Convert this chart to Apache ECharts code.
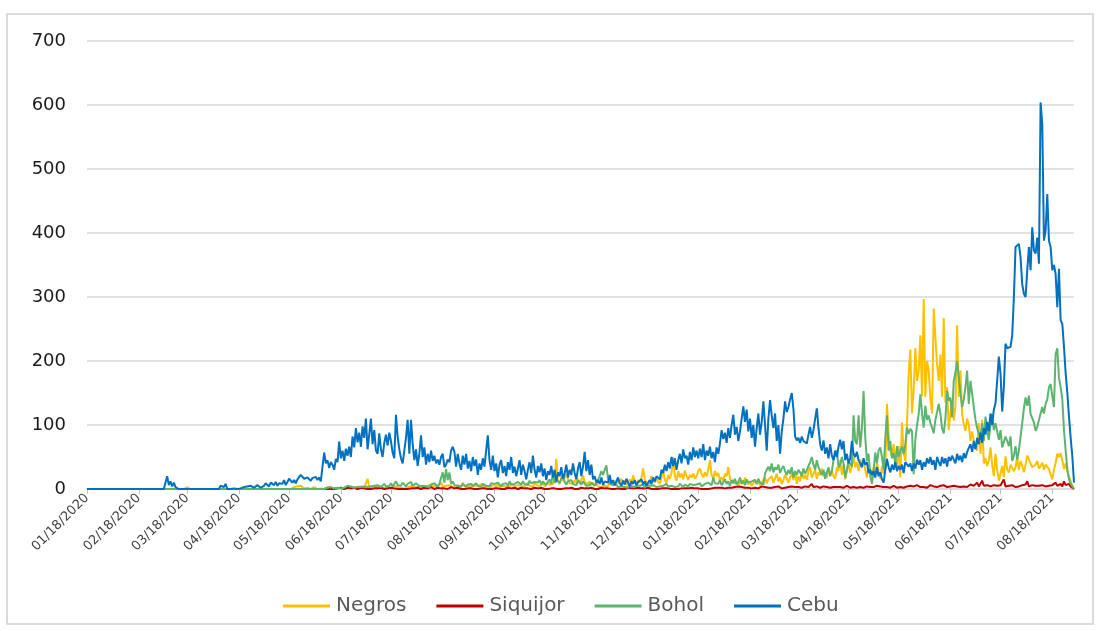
<!DOCTYPE html>
<html>
<head>
<meta charset="utf-8">
<script src="https://cdn.jsdelivr.net/npm/echarts@6/dist/echarts.min.js"></script>
<style>
html,body{margin:0;padding:0;background:#fff}
#chart{width:1100px;height:631px}
</style>
</head>
<body>
<div id="chart"></div>
<script>
// Daily series, first day 01/18/2020
const startDate = [2020, 0, 18];
const seriesNames = ['Negros', 'Siquijor', 'Bohol', 'Cebu'];
const yTicks = [0, 100, 200, 300, 400, 500, 600, 700];

const cebu = [
0,0,0,0,0,0,0,0,0,0,
0,0,0,0,0,0,0,0,0,0,
0,0,0,0,0,0,0,0,0,0,
0,0,0,0,0,0,0,0,0,0,
0,0,0,0,0,0,0,0,20,6,
12,4,10,3,1,0,0,0,0,0,
0,0,0,0,0,0,0,0,0,0,
0,0,0,0,0,0,0,0,0,0,
5,8,3,8,0,0,0,0,1,0,
0,0,1,2,3,1,4,2,5,3,
2,4,6,3,2,5,5,9,7,4,
10,8,6,11,5,9,12,8,14,6,
4,16,18,10,14,9,15,12,22,20,
16,14,18,15,13,17,16,19,14,18,
12,11,57,40,45,33,42,38,30,47,
42,74,48,60,44,63,52,66,50,82,
65,95,73,88,66,98,80,110,62,85,
110,70,92,60,55,87,62,50,72,85,
68,88,75,57,48,116,82,62,48,40,
60,80,108,55,108,70,45,62,36,55,
84,50,65,38,55,42,60,44,52,40,
46,38,50,55,34,38,46,42,60,66,
58,35,55,40,30,52,38,55,32,44,
28,50,36,46,22,40,30,48,35,60,
84,45,30,52,28,40,18,38,45,25,
36,20,42,30,50,25,35,20,32,45,
22,38,28,15,30,42,25,52,30,18,
36,26,40,20,32,14,28,22,36,18,
30,12,26,20,34,16,24,38,18,30,
22,40,25,15,32,42,20,35,58,28,
45,22,38,15,20,10,14,8,18,6,
12,15,10,22,8,14,6,12,18,9,
5,13,7,16,10,4,12,8,14,6,
11,9,15,7,12,5,10,14,8,18,
12,20,22,15,30,25,38,28,42,32,
50,36,48,30,45,55,40,62,48,52,
38,58,45,65,50,60,48,63,50,70,
45,60,52,66,48,58,42,65,55,71,
92,78,88,72,95,80,100,116,85,97,
75,90,110,129,105,124,90,110,80,100,
66,95,118,85,105,137,100,60,110,139,
115,95,118,75,100,55,90,110,137,120,
128,140,150,125,82,76,80,72,82,75,
78,71,85,97,80,92,110,126,95,70,
60,76,55,65,48,70,52,45,60,50,
66,77,62,75,45,55,40,48,75,55,
50,58,45,40,34,48,38,42,25,30,
22,28,18,34,20,26,15,10,30,47,
34,26,38,30,42,28,36,30,38,25,
42,44,35,40,28,40,32,46,38,45,
30,42,35,48,40,50,38,45,30,50,
42,36,50,40,48,35,50,44,52,50,
40,55,45,52,42,56,48,58,55,70,
58,75,62,80,70,88,72,95,85,105,
90,118,100,124,134,170,207,180,121,160,
227,220,218,222,240,300,378,380,383,362,
320,305,300,342,378,342,409,373,368,393,
352,604,570,388,404,461,388,378,342,350,
336,284,344,264,258,222,181,150,113,80,
51,10
];

const negros = [
0,0,0,0,0,0,0,0,0,0,
0,0,0,0,0,0,0,0,0,0,
0,0,0,0,0,0,0,0,0,0,
0,0,0,0,0,0,0,0,0,0,
0,0,0,0,0,0,0,0,0,0,
0,0,0,0,0,0,0,0,0,0,
3,0,0,0,0,0,0,0,0,0,
0,0,0,0,0,0,0,0,0,0,
0,0,0,0,0,0,0,0,0,0,
0,0,0,0,0,0,0,0,0,0,
0,0,0,0,0,0,0,0,0,0,
0,0,0,0,0,0,0,0,0,0,
0,0,0,1,3,2,4,1,5,2,
1,0,2,1,0,1,3,1,0,2,
1,2,0,1,3,1,2,0,1,2,
1,3,2,1,0,2,4,1,2,3,
2,1,3,2,4,1,2,3,16,3,
2,4,1,3,2,5,2,1,3,2,
4,2,3,1,5,2,3,4,2,3,
1,4,2,3,5,2,4,3,2,6,
3,2,5,4,2,6,3,4,2,5,
3,6,10,4,3,5,2,6,4,3,
5,2,6,4,3,10,5,3,6,4,
3,7,4,5,2,6,4,8,3,5,
4,6,3,7,5,4,8,3,6,5,
7,4,6,3,8,5,4,7,6,3,
5,8,4,6,10,5,7,4,9,6,
5,8,6,10,4,7,12,6,9,8,
15,47,12,8,18,13,10,23,15,9,
12,8,14,10,16,9,7,21,11,14,
8,12,6,10,5,9,4,7,3,6,
5,8,4,10,7,12,6,14,9,11,
16,8,13,6,10,15,9,21,12,8,
14,10,18,32,15,9,12,8,20,14,
10,16,12,8,18,29,14,10,22,16,
25,50,20,13,28,18,24,15,29,20,
14,22,18,24,16,20,28,32,24,18,
26,20,30,45,22,16,28,20,25,14,
18,12,24,20,34,16,10,14,8,12,
6,10,14,8,18,11,7,12,5,9,
15,8,12,6,10,14,18,9,15,12,
20,10,16,24,12,18,8,14,22,16,
10,18,24,14,28,8,20,12,26,16,
22,14,28,34,18,24,30,16,26,22,
32,20,26,18,30,24,28,20,16,34,
28,45,22,38,15,18,40,25,36,50,
34,42,28,46,36,44,30,18,38,26,
14,34,22,40,28,16,36,24,30,133,
86,60,50,70,45,34,67,18,104,56,
44,101,180,218,118,155,220,169,185,240,
145,297,144,200,185,140,118,282,285,195,
169,210,144,267,135,159,92,120,138,107,
130,256,144,185,117,101,91,110,101,75,
90,75,67,60,103,55,108,40,48,36,
44,65,38,20,55,30,13,10,36,18,
51,30,26,38,41,28,34,49,30,44,
36,26,38,52,51,40,34,31,38,44,
32,36,41,30,38,40,31,28,15,30,
41,55,50,56,45,31,40,28,20,12,
5,0
];

const siquijor = [
0,0,0,0,0,0,0,0,0,0,
0,0,0,0,0,0,0,0,0,0,
0,0,0,0,0,0,0,0,0,0,
0,0,0,0,0,0,0,0,0,0,
0,0,0,0,0,0,0,0,0,0,
0,0,0,0,0,0,0,0,0,0,
0,0,0,0,0,0,0,0,0,0,
0,0,0,0,0,0,0,0,0,0,
0,0,0,0,0,0,0,0,0,0,
0,0,0,0,0,0,0,0,0,0,
0,0,0,0,0,0,0,0,0,0,
0,0,0,0,0,0,0,0,0,0,
0,0,0,0,0,0,0,0,0,0,
0,0,0,0,0,0,0,0,0,0,
0,0,0,0,0,0,0,0,0,0,
1,0,2,1,0,1,2,0,1,0,
2,1,0,1,2,0,1,3,0,1,
0,2,1,0,1,0,2,1,0,1,
1,0,2,0,1,3,0,1,0,2,
0,1,0,2,1,0,1,0,2,1,
0,1,2,0,1,0,3,1,0,1,
2,0,1,0,1,2,0,1,3,0,
1,0,2,1,0,1,0,2,1,0,
1,2,0,1,0,2,1,0,1,3,
0,1,0,2,1,0,1,2,0,1,
0,1,2,0,1,0,2,1,0,1,
2,0,1,0,1,3,0,1,2,0,
1,0,2,1,0,1,0,2,1,0,
1,2,0,1,0,2,1,0,1,0,
2,1,0,1,0,1,2,0,1,0,
1,0,2,1,0,1,0,1,2,0,
1,0,1,2,0,1,0,2,1,0,
0,1,0,1,2,0,1,0,1,0,
2,0,1,0,1,0,2,1,0,1,
0,1,0,2,1,0,1,0,1,2,
0,1,0,1,0,2,1,0,1,0,
1,0,2,0,1,0,1,2,0,1,
0,1,0,2,1,3,2,4,2,3,
2,3,1,4,2,3,2,1,3,2,
4,2,3,1,2,3,2,4,1,3,
2,3,1,2,4,2,3,1,2,3,
2,1,3,2,4,2,1,3,2,4,
3,2,4,1,3,2,3,5,2,3,
4,2,3,5,8,3,2,4,3,2,
3,4,2,3,1,2,4,3,2,3,
2,3,4,2,3,5,3,2,4,3,
3,2,4,3,5,2,3,4,2,3,
4,3,2,5,3,4,2,3,6,3,
4,2,3,5,3,2,4,3,5,2,
3,4,2,5,3,4,3,6,7,3,
4,3,5,2,4,6,3,4,5,3,
4,5,3,6,4,3,5,4,6,5,
8,4,5,3,6,4,5,3,6,7,
4,5,6,10,4,6,13,5,4,6,
8,4,5,6,3,5,4,6,5,15,
4,6,5,4,6,5,3,6,4,5,
6,4,7,12,4,5,6,4,5,3,
5,4,6,5,4,6,5,4,6,5,
10,5,6,8,4,12,6,5,8,4,
2,0
];

const bohol = [
0,0,0,0,0,0,0,0,0,0,
0,0,0,0,0,0,0,0,0,0,
0,0,0,0,0,0,0,0,0,0,
0,0,0,0,0,0,0,0,0,0,
0,0,0,0,0,0,0,0,0,0,
0,0,0,0,0,0,0,0,0,0,
0,0,0,0,0,0,0,0,0,0,
0,0,0,0,0,0,0,0,0,0,
0,0,0,0,0,0,0,0,0,0,
0,0,0,0,0,0,0,0,0,0,
0,0,0,0,0,0,0,0,0,0,
0,0,0,0,0,0,0,0,0,0,
0,0,0,0,0,0,0,0,0,0,
0,0,0,0,0,0,0,0,0,0,
0,0,0,0,2,1,3,2,1,4,
2,3,1,4,2,3,5,2,4,3,
2,4,3,5,3,2,4,6,3,5,
4,3,5,2,6,4,3,5,8,4,
6,5,9,4,7,12,6,8,5,10,
7,4,8,6,11,5,8,9,6,4,
7,5,8,4,6,3,7,5,9,6,
4,8,6,26,10,31,14,26,8,12,
6,9,5,7,4,8,6,3,7,5,
8,4,6,9,5,7,3,8,6,5,
7,4,9,6,8,5,10,7,4,8,
6,9,5,12,7,10,8,6,11,9,
7,12,8,10,6,13,9,7,11,8,
10,14,7,12,9,6,11,15,8,26,
10,8,13,9,16,23,11,7,12,9,
14,8,11,6,13,10,7,12,9,5,
8,6,10,12,5,9,14,20,28,22,
30,37,16,8,5,6,4,7,3,5,
4,6,3,5,2,7,4,3,6,5,
3,5,4,7,2,6,3,5,4,6,
5,3,6,4,7,5,3,8,4,6,
5,7,3,6,4,8,5,3,7,6,
4,8,5,6,3,7,5,9,4,6,
8,5,10,7,6,18,9,12,8,14,
6,10,15,8,12,5,14,9,16,7,
11,18,8,13,6,15,10,7,12,9,
14,8,16,10,12,7,24,30,35,28,
40,26,34,30,38,25,32,36,28,22,
30,24,34,18,28,22,30,26,20,32,
24,29,36,42,50,38,30,45,34,28,
22,30,16,26,34,20,28,45,55,60,
34,38,50,40,18,30,44,44,35,115,
75,70,115,65,95,153,81,44,55,20,
8,29,57,40,60,65,50,30,80,115,
60,75,48,56,39,67,50,60,66,55,
70,96,86,94,90,23,77,100,117,148,
118,96,130,108,115,103,96,87,108,120,
133,118,95,87,110,154,138,143,112,169,
182,200,175,150,128,140,159,185,133,169,
149,128,108,95,86,82,103,75,113,92,
77,100,117,92,103,102,77,92,65,67,
82,75,67,82,44,52,67,46,60,82,
103,126,143,130,146,117,118,104,91,97,
108,110,128,118,133,140,159,164,145,128,
211,220,174,159,140,92,60,31,15,8,
5,0
];

const seriesColors = ['#FFC000', '#C00000', '#5CB46E', '#0070C0'];

function pad(n) { return (n < 10 ? '0' : '') + n; }
const dates = [];
for (let i = 0; i < cebu.length; i++) {
  const d = new Date(Date.UTC(startDate[0], startDate[1], startDate[2] + i));
  dates.push(pad(d.getUTCMonth() + 1) + '/' + pad(d.getUTCDate()) + '/' + d.getUTCFullYear());
}
const isMonthTick = function (idx, val) { return dates[idx].slice(3, 5) === '18'; };

const chart = echarts.init(document.getElementById('chart'), null, { renderer: 'canvas' });
const dataBySeries = [negros, siquijor, bohol, cebu];
chart.setOption({
  animation: false,
  backgroundColor: '#ffffff',
  textStyle: { fontFamily: 'DejaVu Sans' },
  grid: [
    { left: 87, right: 26, top: 41, bottom: 142, containLabel: false },
    { left: 7, top: 14, width: 1086, height: 610, show: true, borderColor: '#cfcfcf', borderWidth: 1.5, backgroundColor: 'rgba(0,0,0,0)', z: 0 }
  ],
  legend: {
    data: seriesNames.map(function (n) { return { name: n, icon: 'rect' }; }),
    left: 278, top: 589,
    itemWidth: 47, itemHeight: 3, itemGap: 30,
    textStyle: { fontSize: 20, color: '#595959', fontFamily: 'DejaVu Sans', lineHeight: 24, padding: [0, 0, 0, 1] }
  },
  xAxis: [{
    type: 'category', data: dates, boundaryGap: false, gridIndex: 0,
    axisLine: { show: true, lineStyle: { color: '#d9d9d9', width: 1.5 } },
    axisTick: { show: true, interval: isMonthTick, length: 5, lineStyle: { color: '#bfbfbf' } },
    axisLabel: { interval: isMonthTick, rotate: 45, fontSize: 13, color: '#404040', margin: 7 },
    splitLine: { show: false }
  }, {
    type: 'value', gridIndex: 1, show: false, min: 0, max: 1
  }],
  yAxis: [{
    type: 'value', min: yTicks[0], max: yTicks[yTicks.length - 1], interval: 100, gridIndex: 0,
    axisLine: { show: false }, axisTick: { show: false },
    axisLabel: { fontSize: 18, color: '#1a1a1a', margin: 21 },
    splitLine: { lineStyle: { color: '#d9d9d9', width: 1.5 } }
  }, {
    type: 'value', gridIndex: 1, show: false, min: 0, max: 1
  }],
  series: seriesNames.map(function (name, i) {
    return {
      name: name, type: 'line', data: dataBySeries[i],
      xAxisIndex: 0, yAxisIndex: 0,
      symbol: 'none', showSymbol: false,
      lineStyle: { width: 2, color: seriesColors[i] },
      itemStyle: { color: seriesColors[i] },
      emphasis: { disabled: true }
    };
  })
});
</script>
</body>
</html>
